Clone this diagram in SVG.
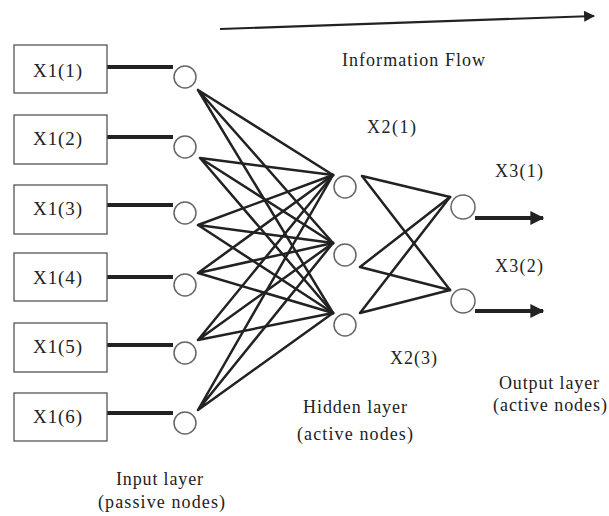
<svg xmlns="http://www.w3.org/2000/svg" width="609" height="516" viewBox="0 0 609 516">
<defs>
<style>
.box{fill:#fff;stroke:#555;stroke-width:1.3}
.nd{fill:#fff;stroke:#666;stroke-width:1.5}
.lbl{font-family:"Liberation Serif","Times New Roman",serif;font-size:19px;fill:#222}
.txt{font-family:"Liberation Serif","Times New Roman",serif;font-size:18px;fill:#222}
.thick{stroke:#222;stroke-width:4;fill:none;stroke-linecap:butt}
.net{stroke:#222;stroke-width:2.5;fill:none;stroke-linecap:round}
</style>
<marker id="ah" viewBox="0 0 10 10" refX="9" refY="5" markerWidth="4" markerHeight="3.5" orient="auto" markerUnits="strokeWidth">
<path d="M0,0 L10,5 L0,10 Z" fill="#222"/>
</marker>
<marker id="ah2" viewBox="0 0 10 10" refX="9" refY="5" markerWidth="7.5" markerHeight="5" orient="auto" markerUnits="strokeWidth">
<path d="M0,0 L10,5 L0,10 Z" fill="#222"/>
</marker>
</defs>
<rect width="609" height="516" fill="#fff"/>

<g id="connectors">
<line class="thick" x1="107" y1="67" x2="173" y2="67"/>
<line class="thick" x1="107" y1="137" x2="173" y2="137"/>
<line class="thick" x1="107" y1="205" x2="173" y2="205"/>
<line class="thick" x1="107" y1="277" x2="173" y2="277"/>
<line class="thick" x1="107" y1="345" x2="173" y2="345"/>
<line class="thick" x1="107" y1="413" x2="173" y2="413"/>
<g class="net">
<path d="M198,90 L333,175 M198,90 L333,243 M198,90 L333,313"/>
<path d="M200,158 L333,175 M200,158 L333,243 M200,158 L333,313"/>
<path d="M198,225 L333,175 M198,225 L333,243 M198,225 L333,313"/>
<path d="M198,273 L333,175 M198,273 L333,243 M198,273 L333,313"/>
<path d="M198,340 L333,175 M198,340 L333,243 M198,340 L333,313"/>
<path d="M198,410 L333,175 M198,410 L333,243 M198,410 L333,313"/>
<path d="M362,176 L450,197 M362,176 L450,290"/>
<path d="M360,267 L450,197 M360,267 L450,290"/>
<path d="M360,313 L450,197 M360,313 L450,290"/>
</g>
<line class="thick" x1="475" y1="218" x2="543" y2="218" marker-end="url(#ah)"/>
<line class="thick" x1="475" y1="311" x2="543" y2="311" marker-end="url(#ah)"/>
<line x1="220" y1="29" x2="594" y2="16" stroke="#222" stroke-width="2.2" marker-end="url(#ah2)"/>
</g>

<g id="in1"><rect class="box" x="14" y="45" width="93" height="48"/><text class="lbl" x="33" y="77" textLength="49">X1(1)</text></g>
<g id="in2"><rect class="box" x="14" y="115" width="93" height="49"/><text class="lbl" x="33" y="145" textLength="49">X1(2)</text></g>
<g id="in3"><rect class="box" x="14" y="185" width="93" height="49"/><text class="lbl" x="33" y="215" textLength="49">X1(3)</text></g>
<g id="in4"><rect class="box" x="14" y="253" width="93" height="48"/><text class="lbl" x="33" y="284" textLength="49">X1(4)</text></g>
<g id="in5"><rect class="box" x="14" y="323" width="93" height="49"/><text class="lbl" x="33" y="353" textLength="49">X1(5)</text></g>
<g id="in6"><rect class="box" x="14" y="393" width="93" height="48"/><text class="lbl" x="33" y="423" textLength="49">X1(6)</text></g>

<g id="i1"><circle class="nd" cx="185" cy="77" r="11"/></g>
<g id="i2"><circle class="nd" cx="185" cy="147" r="11"/></g>
<g id="i3"><circle class="nd" cx="185" cy="213" r="11"/></g>
<g id="i4"><circle class="nd" cx="185" cy="285" r="11"/></g>
<g id="i5"><circle class="nd" cx="185" cy="353" r="11"/></g>
<g id="i6"><circle class="nd" cx="185" cy="423" r="11"/></g>

<g id="h1"><circle class="nd" cx="345" cy="187" r="11"/><text class="txt" x="367" y="133" textLength="49">X2(1)</text></g>
<g id="h2"><circle class="nd" cx="345" cy="255" r="11"/></g>
<g id="h3"><circle class="nd" cx="345" cy="325" r="11"/><text class="txt" x="390" y="364" textLength="47">X2(3)</text></g>

<g id="o1"><circle class="nd" cx="463" cy="207" r="12"/><text class="txt" x="495" y="177" textLength="48">X3(1)</text></g>
<g id="o2"><circle class="nd" cx="463" cy="301" r="12"/><text class="txt" x="495" y="272" textLength="48">X3(2)</text></g>

<g id="labels">
<text class="txt" x="342" y="66" textLength="143">Information Flow</text>
<text class="txt" x="116" y="485" textLength="87">Input layer</text>
<text class="txt" x="98" y="508" textLength="127">(passive nodes)</text>
<text class="txt" x="303" y="413" textLength="104">Hidden layer</text>
<text class="txt" x="297" y="440" textLength="116">(active nodes)</text>
<text class="txt" x="499" y="389" textLength="100">Output layer</text>
<text class="txt" x="493" y="411" textLength="114">(active nodes)</text>
</g>
</svg>
